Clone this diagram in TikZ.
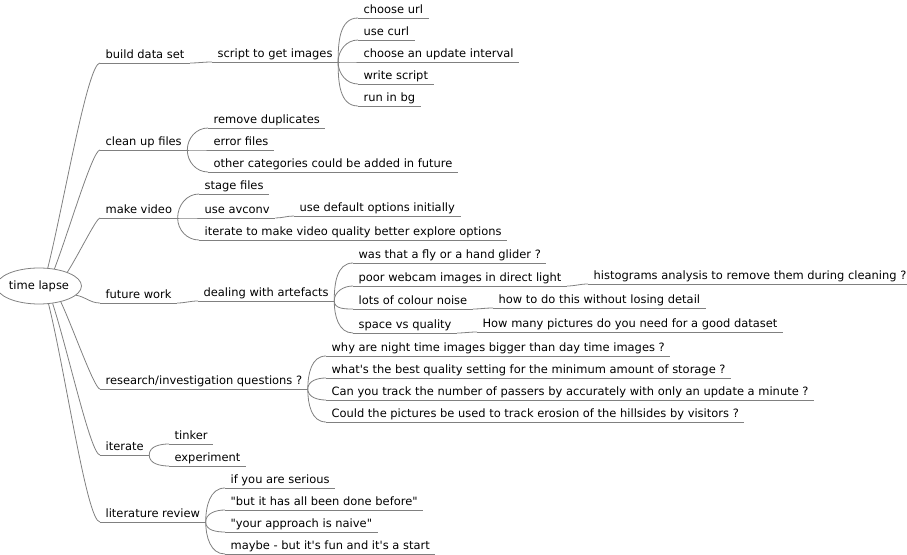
\documentclass[tikz,border=0pt]{standalone}
\usepackage{fontspec}
\setmainfont{DejaVu Sans}[Ligatures=TeXReset]
\usetikzlibrary{shapes.geometric, positioning, calc}

\begin{document}
\begin{tikzpicture}[x=0.75pt, y=-0.75pt,
  topic/.style={anchor=south west, inner xsep=4pt, inner ysep=1.5pt,
    text height=7pt, text depth=2pt, font=\fontsize{8.6}{10}\selectfont},
  link/.style={draw=gray, line width=0.6pt},
  fork/.style={link, out=#1, in=180},
  trunk/.style={link, out=#1, in=180, out looseness=0.8, in looseness=0.15}]
\useasboundingbox (0,0) rectangle (907,555);

% Central topic
\node[draw=gray, line width=0.6pt, ellipse, minimum width=57pt, minimum height=27pt,
  inner sep=0pt, font=\fontsize{8.6}{10}\selectfont] (root) at (39,286) {time lapse};

% Main branches
\node[topic] (build) at (100,63) {build data set};
\node[topic] (clean) at (100,150) {clean up files};
\node[topic] (video) at (100,218) {make video};
\node[topic] (future) at (100,303) {future work};
\node[topic] (research) at (100,389) {research/investigation questions ?};
\node[topic] (iterate) at (100,455) {iterate};
\node[topic] (review) at (100,522) {literature review};

% build data set
\node[topic] (script) at (212,62) {script to get images};
\node[topic] (url) at (358,18) {choose url};
\node[topic] (curl) at (358,40) {use curl};
\node[topic] (interval) at (358,62) {choose an update interval};
\node[topic] (write) at (358,84) {write script};
\node[topic] (bg) at (358,106) {run in bg};

% clean up files
\node[topic] (dups) at (208,128) {remove duplicates};
\node[topic] (errors) at (208,150) {error files};
\node[topic] (other) at (208,172) {other categories could be added in future};

% make video
\node[topic] (stage) at (199,194) {stage files};
\node[topic] (avconv) at (199,218) {use avconv};
\node[topic] (defaults) at (294,216) {use default options initially};
\node[topic] (quality) at (199,240) {iterate to make video quality better explore options};

% future work
\node[topic] (artefacts) at (198,301) {dealing with artefacts};
\node[topic] (glider) at (353,263) {was that a fly or a hand glider ?};
\node[topic] (webcam) at (353,286) {poor webcam images in direct light};
\node[topic] (histo) at (588,284) {histograms analysis to remove them during cleaning ?};
\node[topic] (noise) at (353,309) {lots of colour noise};
\node[topic] (detail) at (493,308) {how to do this without losing detail};
\node[topic] (space) at (353,333) {space vs quality};
\node[topic] (dataset) at (477,332) {How many pictures do you need for a good dataset};

% research questions
\node[topic] (night) at (326,356) {why are night time images bigger than day time images ?};
\node[topic] (storage) at (326,378) {what's the best quality setting for the minimum amount of storage ?};
\node[topic] (passers) at (326,400) {Can you track the number of passers by accurately with only an update a minute ?};
\node[topic] (erosion) at (326,422) {Could the pictures be used to track erosion of the hillsides by visitors ?};

% iterate
\node[topic] (tinker) at (169,444) {tinker};
\node[topic] (experiment) at (169,466) {experiment};

% literature review
\node[topic] (serious) at (225,488) {if you are serious};
\node[topic] (before) at (225,510) {"but it has all been done before"};
\node[topic] (naive) at (225,532) {"your approach is naive"};
\node[topic] (start) at (225,554) {maybe - but it's fun and it's a start};

% Underlines
\foreach \n in {build,clean,video,future,research,iterate,review,script,url,curl,interval,
  write,bg,dups,errors,other,stage,avconv,defaults,quality,artefacts,glider,webcam,histo,
  noise,detail,space,dataset,night,storage,passers,erosion,tinker,experiment,serious,
  before,naive,start}
  \draw[link] (\n.south west) -- (\n.south east);

% Connectors from the centre
\draw[trunk=76] (root.64) to (build.south west);
\draw[trunk=69] (root.48) to (clean.south west);
\draw[trunk=57] (root.26) to (video.south west);
\draw[fork=-10] (root.-14) to (future.south west);
\draw[trunk=-65] (root.-36) to (research.south west);
\draw[trunk=-72] (root.-52) to (iterate.south west);
\draw[trunk=-76] (root.-62) to (review.south west);

% Connectors between topics
\draw[fork=0] (build.south east) to (script.south west);
\foreach \c/\a in {url/90,curl/90,interval/0,write/-90,bg/-90}
  \draw[fork=\a] (script.south east) to (\c.south west);
\foreach \c/\a in {dups/90,errors/0,other/-90}
  \draw[fork=\a] (clean.south east) to (\c.south west);
\foreach \c/\a in {stage/90,avconv/0,quality/-90}
  \draw[fork=\a] (video.south east) to (\c.south west);
\draw[fork=0] (avconv.south east) to (defaults.south west);
\draw[fork=0] (future.south east) to (artefacts.south west);
\foreach \c/\a in {glider/90,webcam/90,noise/-90,space/-90}
  \draw[fork=\a] (artefacts.south east) to (\c.south west);
\draw[fork=0] (webcam.south east) to (histo.south west);
\draw[fork=0] (noise.south east) to (detail.south west);
\draw[fork=0] (space.south east) to (dataset.south west);
\foreach \c/\a in {night/90,storage/90,passers/-90,erosion/-90}
  \draw[fork=\a] (research.south east) to (\c.south west);
\foreach \c/\a in {tinker/90,experiment/-90}
  \draw[fork=\a] (iterate.south east) to (\c.south west);
\foreach \c/\a in {serious/90,before/90,naive/-90,start/-90}
  \draw[fork=\a] (review.south east) to (\c.south west);
\end{tikzpicture}
\end{document}
